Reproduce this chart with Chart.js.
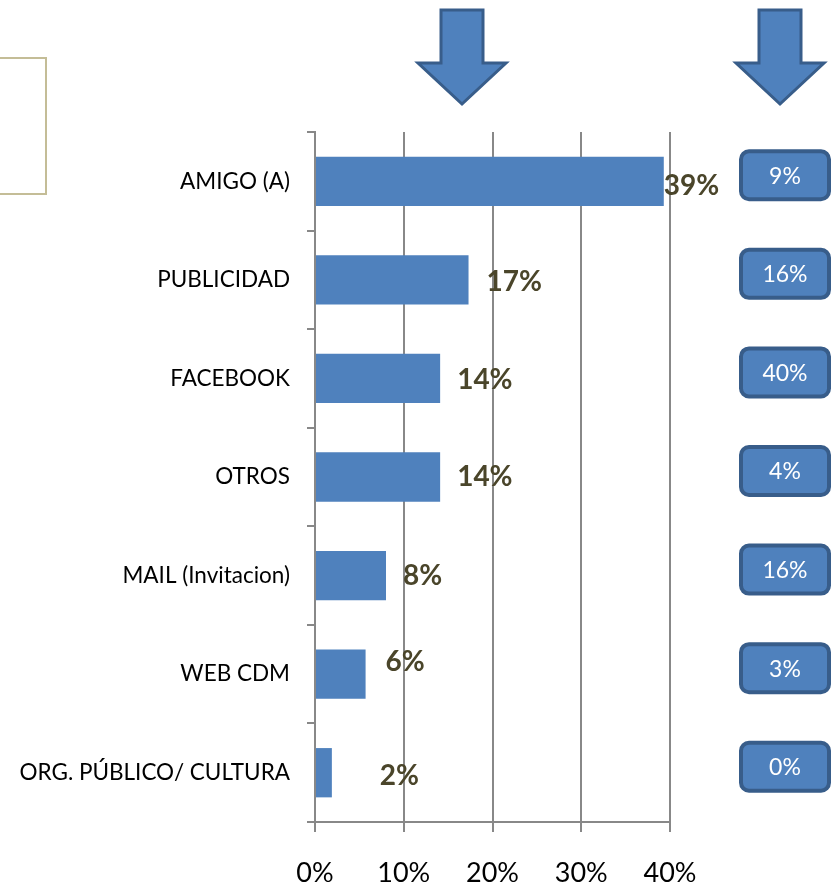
<!DOCTYPE html>
<html>
<head>
<meta charset="utf-8">
<script src="https://cdn.jsdelivr.net/npm/chart.js@4/dist/chart.umd.min.js"></script>
<style>
  html, body { margin: 0; padding: 0; background: #fff; }
  #wrap { width: 831px; height: 885px; position: relative; }
</style>
</head>
<body>
<div id="wrap"><canvas id="chart"></canvas></div>
<script>
// Chart data
const categories = ['AMIGO (A)', 'PUBLICIDAD', 'FACEBOOK', 'OTROS', 'MAIL (Invitacion)', 'WEB CDM', 'ORG. PÚBLICO/ CULTURA'];
const shares = [39.3, 17.3, 14.1, 14.1, 8.0, 5.7, 1.9];
const shareLabels = ['39%', '17%', '14%', '14%', '8%', '6%', '2%'];
const compareLabels = ['9%', '16%', '40%', '4%', '16%', '3%', '0%'];
const xTicks = [0, 10, 20, 30, 40];

const FONT = 'Lato, "Open Sans", sans-serif';
const BLUE = '#4F81BD';
const DARK_BLUE = '#385D8A';
const GRID = '#888888';

// label nudges (px) relative to bar end, the source had them hand-placed
const labelNudge = [[0, 5], [18, 2], [17, 2], [17, 0], [17, 0], [20, -12], [48, 3]];

function drawArrow(ctx, cx) {
  ctx.beginPath();
  ctx.moveTo(cx - 21, 10);
  ctx.lineTo(cx + 21, 10);
  ctx.lineTo(cx + 21, 63);
  ctx.lineTo(cx + 44, 63);
  ctx.lineTo(cx, 104);
  ctx.lineTo(cx - 44, 63);
  ctx.lineTo(cx - 21, 63);
  ctx.closePath();
  ctx.fillStyle = BLUE;
  ctx.fill();
  ctx.lineWidth = 3;
  ctx.strokeStyle = DARK_BLUE;
  ctx.stroke();
}

function roundRect(ctx, x, y, w, h, r) {
  ctx.beginPath();
  ctx.moveTo(x + r, y);
  ctx.arcTo(x + w, y, x + w, y + h, r);
  ctx.arcTo(x + w, y + h, x, y + h, r);
  ctx.arcTo(x, y + h, x, y, r);
  ctx.arcTo(x, y, x + w, y, r);
  ctx.closePath();
}

const extras = {
  id: 'extras',
  afterDraw(chart) {
    const ctx = chart.ctx;
    const meta = chart.getDatasetMeta(0);
    const yScale = chart.scales.y;
    ctx.save();

    // bar value labels
    ctx.font = 'bold 28px ' + FONT;
    ctx.fillStyle = '#4A452A';
    ctx.textAlign = 'left';
    ctx.textBaseline = 'middle';
    meta.data.forEach((bar, i) => {
      ctx.fillText(shareLabels[i], bar.x + labelNudge[i][0], bar.y + labelNudge[i][1]);
    });

    // comparison boxes on the right
    categories.forEach((c, i) => {
      const cy = yScale.getPixelForValue(i) - 6;
      roundRect(ctx, 741, cy - 24, 88, 48, 8);
      ctx.fillStyle = BLUE;
      ctx.fill();
      ctx.lineWidth = 4;
      ctx.strokeStyle = DARK_BLUE;
      ctx.stroke();
      ctx.fillStyle = '#fff';
      ctx.font = '23px ' + FONT;
      ctx.textAlign = 'center';
      ctx.fillText(compareLabels[i], 785, cy + 1);
    });

    // arrows
    drawArrow(ctx, 462);
    drawArrow(ctx, 780);

    // empty box top-left
    ctx.lineWidth = 2;
    ctx.strokeStyle = '#C4BD97';
    ctx.strokeRect(-5, 58, 51, 136);

    ctx.restore();
  }
};

new Chart(document.getElementById('chart'), {
  type: 'bar',
  data: {
    labels: categories,
    datasets: [{
      data: shares,
      backgroundColor: BLUE,
      barPercentage: 0.5,
      categoryPercentage: 1.0,
    }],
  },
  options: {
    indexAxis: 'y',
    responsive: true,
    maintainAspectRatio: false,
    animation: false,
    layout: { padding: { left: 0, top: 132, right: 161, bottom: 0 } },
    plugins: {
      legend: { display: false },
      tooltip: { enabled: false },
    },
    scales: {
      x: {
        min: 0,
        max: 40,
        afterBuildTicks: (scale) => { scale.ticks = xTicks.map(v => ({ value: v })); },
        afterFit: (scale) => { scale.height = 63; },
        ticks: {
          callback: v => v + '%',
          color: '#000',
          font: { family: FONT, size: 27 },
          padding: 25,
        },
        grid: { color: GRID, lineWidth: 2, tickLength: 10, drawTicks: true },
        border: { color: GRID, width: 2 },
      },
      y: {
        afterFit: (scale) => { scale.width = 315; },
        ticks: {
          color: '#000',
          font: { family: FONT, size: 22.5 },
          padding: 17,
        },
        grid: { drawOnChartArea: false, color: GRID, lineWidth: 2, tickLength: 8, offset: true },
        border: { color: GRID, width: 2 },
      },
    },
  },
  plugins: [extras],
});
</script>
</body>
</html>
